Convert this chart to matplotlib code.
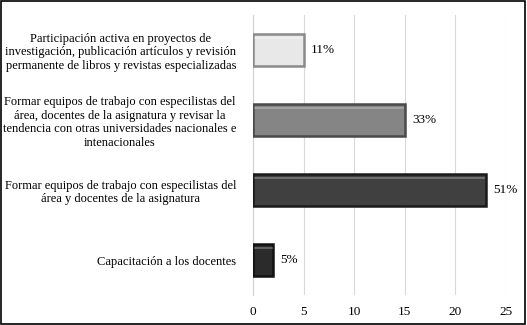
import numpy as np
import matplotlib.pyplot as plt
from matplotlib.patches import Rectangle

categorias = [
    "Capacitación a los docentes",
    "Formar equipos de trabajo con especilistas del\nárea y docentes de la asignatura",
    "Formar equipos de trabajo con especilistas del\nárea, docentes de la asignatura y revisar la\ntendencia con otras universidades nacionales e\nintenacionales",
    "Participación activa en proyectos de\ninvestigación, publicación artículos y revisión\npermanente de libros y revistas especializadas",
]
valores = [2, 23, 15, 5]
porcentajes = ["5%", "51%", "33%", "11%"]
colores = ["#2b2b2b", "#404040", "#858585", "#e8e8e8"]
bordes = ["#111111", "#1a1a1a", "#4a4a4a", "#8a8a8a"]

plt.rcParams['font.family'] = ['Liberation Serif', 'DejaVu Serif']

fig = plt.figure(figsize=(5.27, 3.25), dpi=100)
ax = fig.add_axes([253 / 527, 1 - 295 / 325, (506 - 253) / 527, 280 / 325])

y = np.arange(len(categorias))
bars = ax.barh(y, valores, height=0.47, color=colores, edgecolor=bordes, linewidth=1.8, zorder=3)
# highlight inside bars for a bevel look
for b in bars:
    x0, y0 = b.get_x(), b.get_y()
    w, h = b.get_width(), b.get_height()
    ax.plot([x0 + 0.15, x0 + w - 0.15], [y0 + h - 0.06, y0 + h - 0.06],
            color="white", alpha=0.3, lw=1.2, zorder=4)

for b, p in zip(bars, porcentajes):
    ax.text(b.get_width() + 0.7, b.get_y() + b.get_height() / 2, p,
            va="center", ha="left", fontsize=9.5, color="black")

ax.set_xlim(0, 25)
ax.set_ylim(-0.5, len(categorias) - 0.5)
ax.set_xticks(np.arange(0, 26, 5))
ax.set_yticks(y)
ax.set_yticklabels(categorias, multialignment="center", fontsize=9, color="black")
ax.tick_params(axis="y", length=0, pad=12)
ax.tick_params(axis="x", length=0, pad=8, labelsize=9.5, labelcolor="black")
ax.grid(axis="x", color="#d9d9d9", lw=0.8, zorder=0)
for s in ["top", "right", "bottom"]:
    ax.spines[s].set_visible(False)
ax.spines["left"].set_color("#d0d0d0")

fig.patches.append(Rectangle((0.002, 0.003), 0.995, 0.994, transform=fig.transFigure,
                             fill=False, edgecolor="black", lw=1.2))

fig.savefig("out.png", dpi=100)
